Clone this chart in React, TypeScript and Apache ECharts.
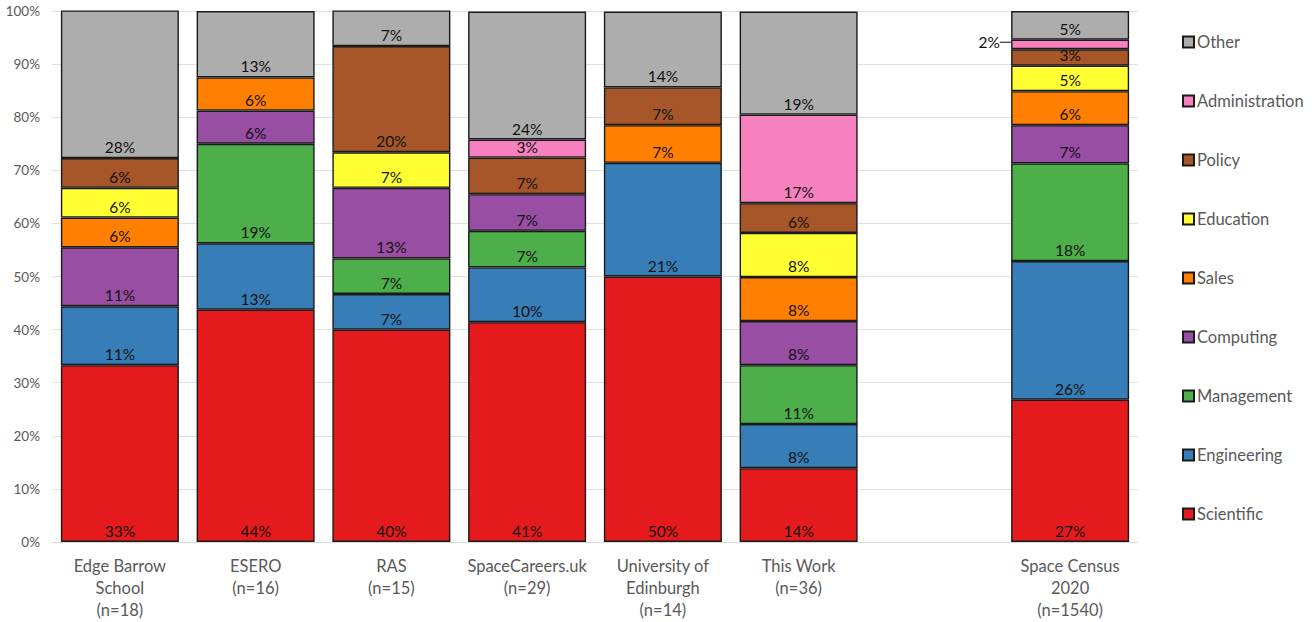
import React, { useEffect, useRef } from "react";
import * as echarts from "echarts";

const categories = [
  "Edge Barrow\nSchool\n(n=18)",
  "ESERO\n(n=16)",
  "RAS\n(n=15)",
  "SpaceCareers.uk\n(n=29)",
  "University of\nEdinburgh\n(n=14)",
  "This Work\n(n=36)",
  "",
  "Space Census\n2020\n(n=1540)",
];

const seriesNames = [
  "Scientific",
  "Engineering",
  "Management",
  "Computing",
  "Sales",
  "Education",
  "Policy",
  "Administration",
  "Other",
];

const colors = [
  "#E41A1C",
  "#377EB8",
  "#4DAF4A",
  "#984EA3",
  "#FF7F00",
  "#FFFF33",
  "#A65628",
  "#F781BF",
  "#ADADAD",
];

// percentages per category (null = none)
const scientific = [33.3, 43.75, 40.0, 41.4, 50.0, 13.9, null, 26.8];
const engineering = [11.1, 12.5, 6.7, 10.3, 21.4, 8.3, null, 26.1];
const management = [null, 18.75, 6.7, 6.9, null, 11.1, null, 18.4];
const computing = [11.1, 6.25, 13.3, 6.9, null, 8.3, null, 7.2];
const sales = [5.6, 6.25, null, null, 7.1, 8.3, null, 6.4];
const education = [5.6, null, 6.7, null, null, 8.3, null, 4.8];
const policy = [5.6, null, 20.0, 6.9, 7.1, 5.6, null, 3.1];
const administration = [null, null, null, 3.4, null, 16.7, null, 1.8];
const other = [27.8, 12.5, 6.7, 24.1, 14.3, 19.4, null, 5.4];

const seriesValues = [
  scientific,
  engineering,
  management,
  computing,
  sales,
  education,
  policy,
  administration,
  other,
];

const yTicks = [0, 10, 20, 30, 40, 50, 60, 70, 80, 90, 100];

export default function App() {
  const ref = useRef<HTMLDivElement>(null);
  useEffect(() => {
    if (!ref.current) return;
    const chart = echarts.init(ref.current, null, { renderer: "svg" });
    const font = "Lato, 'Open Sans', sans-serif";
    const series = seriesNames.map((name, si) => ({
      name,
      type: "bar",
      stack: "total",
      barWidth: 118,
      itemStyle: { color: colors[si], borderColor: "#1a1a1a", borderWidth: 1.4 },
      label: {
        show: true,
        position: "insideBottom",
        distance: 3,
        color: "#111",
        fontSize: 15.5,
        fontFamily: font,
        formatter: (p: any) => (p.value == null || p.value === "-" ? "" : Math.round(p.value) + "%"),
      },
      labelLine: name === "Administration" ? { show: true, lineStyle: { color: "#111", width: 1 } } : undefined,
      labelLayout:
        name === "Administration"
          ? (params: any) => (params.dataIndex === 7 ? { dx: -81, dy: 4 } : {})
          : undefined,
      data: seriesValues[si].map((v) => (v == null ? "-" : v)),
    }));
    chart.setOption({
      animation: false,
      grid: { left: 52, right: 177, top: 11, bottom: 80 },
      legend: {
        orient: "vertical",
        left: 1177,
        top: 28,
        itemWidth: 11,
        itemHeight: 11,
        itemGap: 41,
        icon: "rect",
        data: [...seriesNames].reverse(),
        textStyle: { color: "#595959", fontSize: 16.5, fontFamily: font, lineHeight: 18, padding: [0, 0, 0, -2] },
      },
      xAxis: {
        type: "category",
        data: categories,
        axisTick: { show: false },
        axisLine: { lineStyle: { color: "#d9d9d9" } },
        axisLabel: { color: "#595959", fontSize: 16.5, fontFamily: font, lineHeight: 22, margin: 13, interval: 0 },
      },
      yAxis: {
        type: "value",
        min: yTicks[0],
        max: yTicks[yTicks.length - 1],
        interval: 10,
        axisLabel: { color: "#595959", fontSize: 13.5, fontFamily: font, formatter: "{value}%", margin: 12 },
        splitLine: { lineStyle: { color: "#e0e0e0" } },
        axisLine: { show: false },
      },
      series,
    });
    return () => chart.dispose();
  }, []);
  return (
    <div
      ref={ref}
      style={{ position: "absolute", left: 0, top: 0, width: 1315, height: 622, overflow: "hidden" }}
    />
  );
}
